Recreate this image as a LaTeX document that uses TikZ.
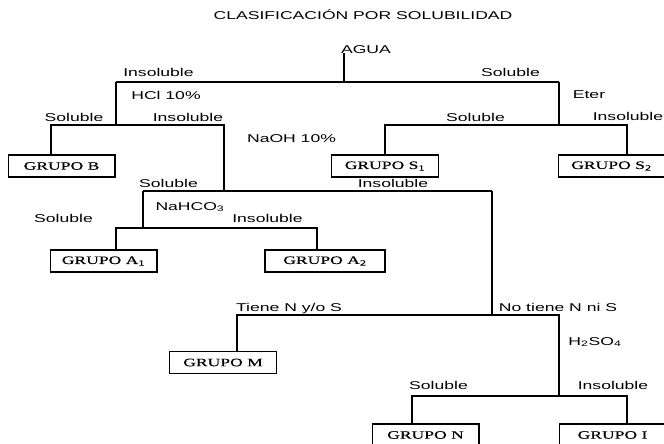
\documentclass[tikz,border=0pt]{standalone}
\usepackage{fontspec}
\setmainfont{Liberation Sans}[FakeStretch=1.55]
\newfontfamily\grupofont{Liberation Serif}[FakeStretch=1.55, FakeBold=0.5]
\tikzset{
  lbl/.style={font=\fontsize{8.5}{10}\selectfont, inner sep=0pt, text height=6pt, text depth=0pt},
  grupo/.style={draw, line width=1pt, minimum width=80pt, minimum height=16.5pt,
                inner sep=0pt, font=\grupofont\fontsize{8.5}{10}\selectfont},
  rama/.style={line width=1pt}
}
\begin{document}
\begin{tikzpicture}[x=0.75pt, y=-0.75pt]
  \clip (0,0) rectangle (664,443);
  % title and labels
  \node[lbl] (titulo) at (363,15) {CLASIFICACIÓN POR SOLUBILIDAD};
  \node[lbl] (agua) at (366,49) {AGUA};
  \node[lbl] (l1) at (158.5,72) {Insoluble};
  \node[lbl] (l2) at (510.5,72) {Soluble};
  \node[lbl] (hcl) at (166,95) {HCl 10\%};
  \node[lbl] (eter) at (589,94) {Eter};
  \node[lbl] (l3) at (74,117) {Soluble};
  \node[lbl] (l4) at (188,117) {Insoluble};
  \node[lbl] (l5) at (475.5,117) {Soluble};
  \node[lbl] (l6) at (628,116) {Insoluble};
  \node[lbl] (naoh) at (291.5,138) {NaOH 10\%};
  \node[lbl] (l7) at (168.5,183) {Soluble};
  \node[lbl] (l8) at (393,183) {Insoluble};
  \node[lbl] (bic) at (190,206) {NaHCO\textsubscript{3}};
  \node[lbl] (l9) at (63.5,218) {Soluble};
  \node[lbl] (l10) at (267.5,218) {Insoluble};
  \node[lbl] (l11) at (289,307) {Tiene N y/o S};
  \node[lbl] (l12) at (558,307) {No tiene N ni S};
  \node[lbl] (acido) at (595,341) {H\textsubscript{2}SO\textsubscript{4}};
  \node[lbl] (l13) at (438.5,385) {Soluble};
  \node[lbl] (l14) at (613,385) {Insoluble};
  % groups
  \foreach \n/\x/\y/\t in {B/61.5/166/B, S1/385/166/S\textsubscript{1},
      S2/611.5/166/S\textsubscript{2}, A1/103.5/261/A\textsubscript{1},
      M/223/362.5/M, N/425.5/435/N, I/612.5/435/I}
    \node[grupo] (grupo\n) at (\x,\y) {GRUPO \t};
  \node[grupo, minimum width=90pt] (grupoA2) at (325,261) {GRUPO A\textsubscript{2}};
  % junctions
  \coordinate (c-agua) at (344,82);
  \coordinate (c-hcl) at (116,82);
  \coordinate (c-hcl2) at (116,125);
  \coordinate (c-eter) at (559,82);
  \coordinate (c-eter2) at (559,125);
  \coordinate (hcl-s) at (51,125);
  \coordinate (hcl-i) at (224,125);
  \coordinate (eter-s) at (385,125);
  \coordinate (eter-i) at (627,125);
  \coordinate (c-naoh) at (224,191);
  \coordinate (naoh-s) at (143,191);
  \coordinate (naoh-i) at (492,191);
  \coordinate (c-bic) at (143,228);
  \coordinate (bic-s) at (116,228);
  \coordinate (bic-i) at (317,228);
  \coordinate (c-ns) at (492,315);
  \coordinate (ns-si) at (237,315);
  \coordinate (ns-no) at (559,315);
  \coordinate (c-acido) at (559,396);
  \coordinate (acido-s) at (412,396);
  \coordinate (acido-i) at (627,396);
  % branches
  \draw[rama] (agua.south -| c-agua) -- (c-agua);
  \draw[rama] (c-hcl) -- (c-eter);
  \draw[rama] (c-hcl) -- (c-hcl2);
  \draw[rama] (c-eter) -- (c-eter2);
  \draw[rama] (grupoB.north -| hcl-s) -- (hcl-s) -- (hcl-i) -- (c-naoh);
  \draw[rama] (grupoS1.north -| eter-s) -- (eter-s) -- (eter-i) -- (grupoS2.north -| eter-i);
  \draw[rama] (naoh-s) -- (naoh-i);
  \draw[rama] (naoh-s) -- (c-bic);
  \draw[rama] (grupoA1.north -| bic-s) -- (bic-s) -- (bic-i) -- (grupoA2.north -| bic-i);
  \draw[rama] (naoh-i) -- (c-ns);
  \draw[rama] (grupoM.north -| ns-si) -- (ns-si) -- (ns-no) -- (c-acido);
  \draw[rama] (grupoN.north -| acido-s) -- (acido-s) -- (acido-i) -- (grupoI.north -| acido-i);
\end{tikzpicture}
\end{document}
